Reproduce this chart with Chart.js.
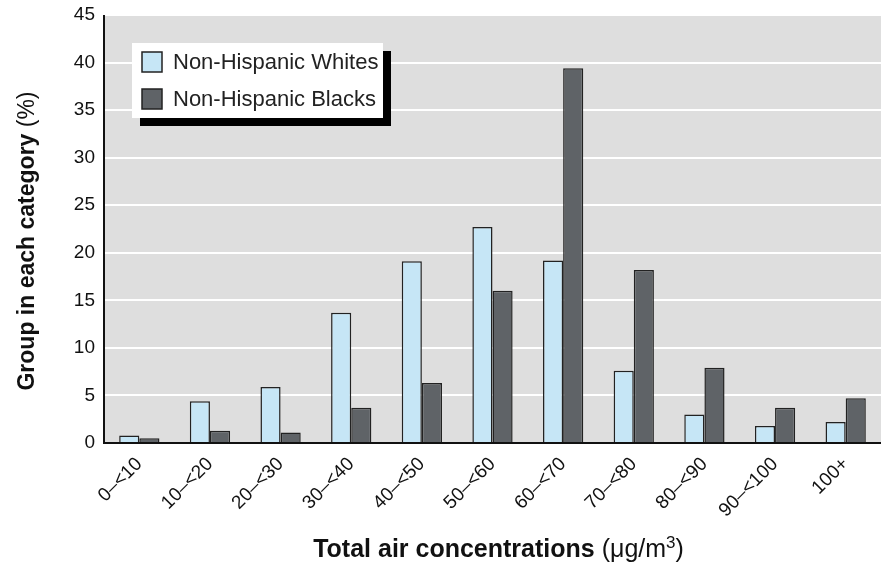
<!DOCTYPE html>
<html>
<head>
<meta charset="utf-8">
<script src="https://cdn.jsdelivr.net/npm/chart.js@4.4.1/dist/chart.umd.min.js"></script>
<style>
  html, body { margin: 0; padding: 0; background: #fff; }
  #wrap { width: 881px; height: 566px; }
</style>
</head>
<body>
<div id="wrap"><canvas id="airChart"></canvas></div>
<script>
// exposure by group
const categories = ['0\u2013<10', '10\u2013<20', '20\u2013<30', '30\u2013<40', '40\u2013<50', '50\u2013<60',
  '60\u2013<70', '70\u2013<80', '80\u2013<90', '90\u2013<100', '100+']
const whites = [0.8, 4.4, 5.9, 13.7, 19.1, 22.7, 19.2, 7.6, 3.0, 1.8, 2.2]
const blacks = [0.5, 1.3, 1.1, 3.7, 6.3, 16.0, 39.4, 18.2, 7.9, 3.7, 4.7]
const yTicks = [0, 5, 10, 15, 20, 25, 30, 35, 40, 45]

const FONT = '"Liberation Sans", Arial, sans-serif'

// gray plot background + axis lines
const plotBg = {
  id: 'plotBg',
  beforeDraw(chart) {
    const { ctx, chartArea: a } = chart
    ctx.save()
    ctx.fillStyle = '#dedede'
    ctx.fillRect(a.left, a.top, a.right - a.left, a.bottom - a.top)
    ctx.restore()
  },
  afterDatasetsDraw(chart) {
    const { ctx, chartArea: a } = chart
    ctx.save()
    ctx.strokeStyle = '#111'
    ctx.lineWidth = 2
    ctx.beginPath()
    ctx.moveTo(a.left, a.top)
    ctx.lineTo(a.left, a.bottom)
    ctx.lineTo(a.right, a.bottom)
    ctx.stroke()
    ctx.restore()
  }
}

// legend box with drop shadow
const boxLegend = {
  id: 'boxLegend',
  afterDraw(chart) {
    const { ctx, chartArea: a } = chart
    const x = a.left + 28, y = a.top + 28, w = 251, h = 75
    ctx.save()
    ctx.fillStyle = '#000'
    ctx.fillRect(x + 8, y + 8, w, h)
    ctx.fillStyle = '#fff'
    ctx.fillRect(x, y, w, h)
    chart.data.datasets.forEach((ds, i) => {
      const sy = y + 9 + i * 37
      ctx.fillStyle = ds.backgroundColor
      ctx.fillRect(x + 10, sy, 20, 20)
      ctx.strokeStyle = '#222'
      ctx.lineWidth = 1.5
      ctx.strokeRect(x + 10, sy, 20, 20)
      ctx.fillStyle = '#222'
      ctx.font = '22px ' + FONT
      ctx.textBaseline = 'middle'
      ctx.fillText(ds.label, x + 41, sy + 11)
    })
    ctx.restore()
  }
}

// axis titles with mixed weights
function drawParts(ctx, parts, cx, cy) {
  let total = 0
  parts.forEach(p => { ctx.font = p.font; total += ctx.measureText(p.t).width })
  let x = cx - total / 2
  parts.forEach(p => {
    ctx.font = p.font
    ctx.fillText(p.t, x, cy + (p.dy || 0))
    x += ctx.measureText(p.t).width
  })
}
const axisTitles = {
  id: 'axisTitles',
  afterDraw(chart) {
    const { ctx, chartArea: a } = chart
    ctx.save()
    ctx.fillStyle = '#111'
    ctx.textBaseline = 'alphabetic'
    drawParts(ctx, [
      { t: 'Total air concentrations ', font: 'bold 25px ' + FONT },
      { t: '(\u03bcg/m', font: '25px ' + FONT },
      { t: '3', font: '17px ' + FONT, dy: -9 },
      { t: ')', font: '25px ' + FONT }
    ], (a.left + a.right) / 2 + 6, 557)
    ctx.translate(34, (a.top + a.bottom) / 2 + 12)
    ctx.rotate(-Math.PI / 2)
    drawParts(ctx, [
      { t: 'Group in each category ', font: 'bold 23px ' + FONT },
      { t: '(%)', font: '23px ' + FONT }
    ], 0, 0)
    ctx.restore()
  }
}

const ctx = document.getElementById('airChart').getContext('2d')
const airChart = new Chart(ctx, {
  type: 'bar',
  data: {
    labels: categories,
    datasets: [{
      label: 'Non-Hispanic Whites',
      data: whites,
      backgroundColor: '#c6e6f6',
      borderColor: '#222',
      borderWidth: 1.5,
      borderSkipped: 'bottom'
    }, {
      label: 'Non-Hispanic Blacks',
      data: blacks,
      backgroundColor: '#5f6367',
      borderColor: '#222',
      borderWidth: 1.5,
      borderSkipped: 'bottom'
    }]
  },
  options: {
    responsive: true,
    maintainAspectRatio: false,
    animation: false,
    layout: { padding: { left: 0, top: 15, right: 0, bottom: 0 } },
    datasets: { bar: { categoryPercentage: 0.57, barPercentage: 1.0 } },
    scales: {
      x: {
        grid: { display: false },
        border: { display: false },
        ticks: {
          color: '#111',
          font: { family: FONT, size: 19 },
          minRotation: 45,
          maxRotation: 45,
          padding: 2
        },
        afterFit(scale) { scale.height = 123 }
      },
      y: {
        min: 0,
        max: 45,
        afterBuildTicks(scale) { scale.ticks = yTicks.map(v => ({ value: v })) },
        grid: { color: '#ffffff', lineWidth: 2, drawTicks: false },
        border: { display: false },
        ticks: {
          color: '#111',
          font: { family: FONT, size: 19 },
          padding: 9
        },
        afterFit(scale) {
          scale.width = 104
          scale.paddingTop = 0
        }
      }
    },
    plugins: {
      legend: { display: false },
      tooltip: { enabled: false }
    }
  },
  plugins: [plotBg, boxLegend, axisTitles]
})
</script>
</body>
</html>
